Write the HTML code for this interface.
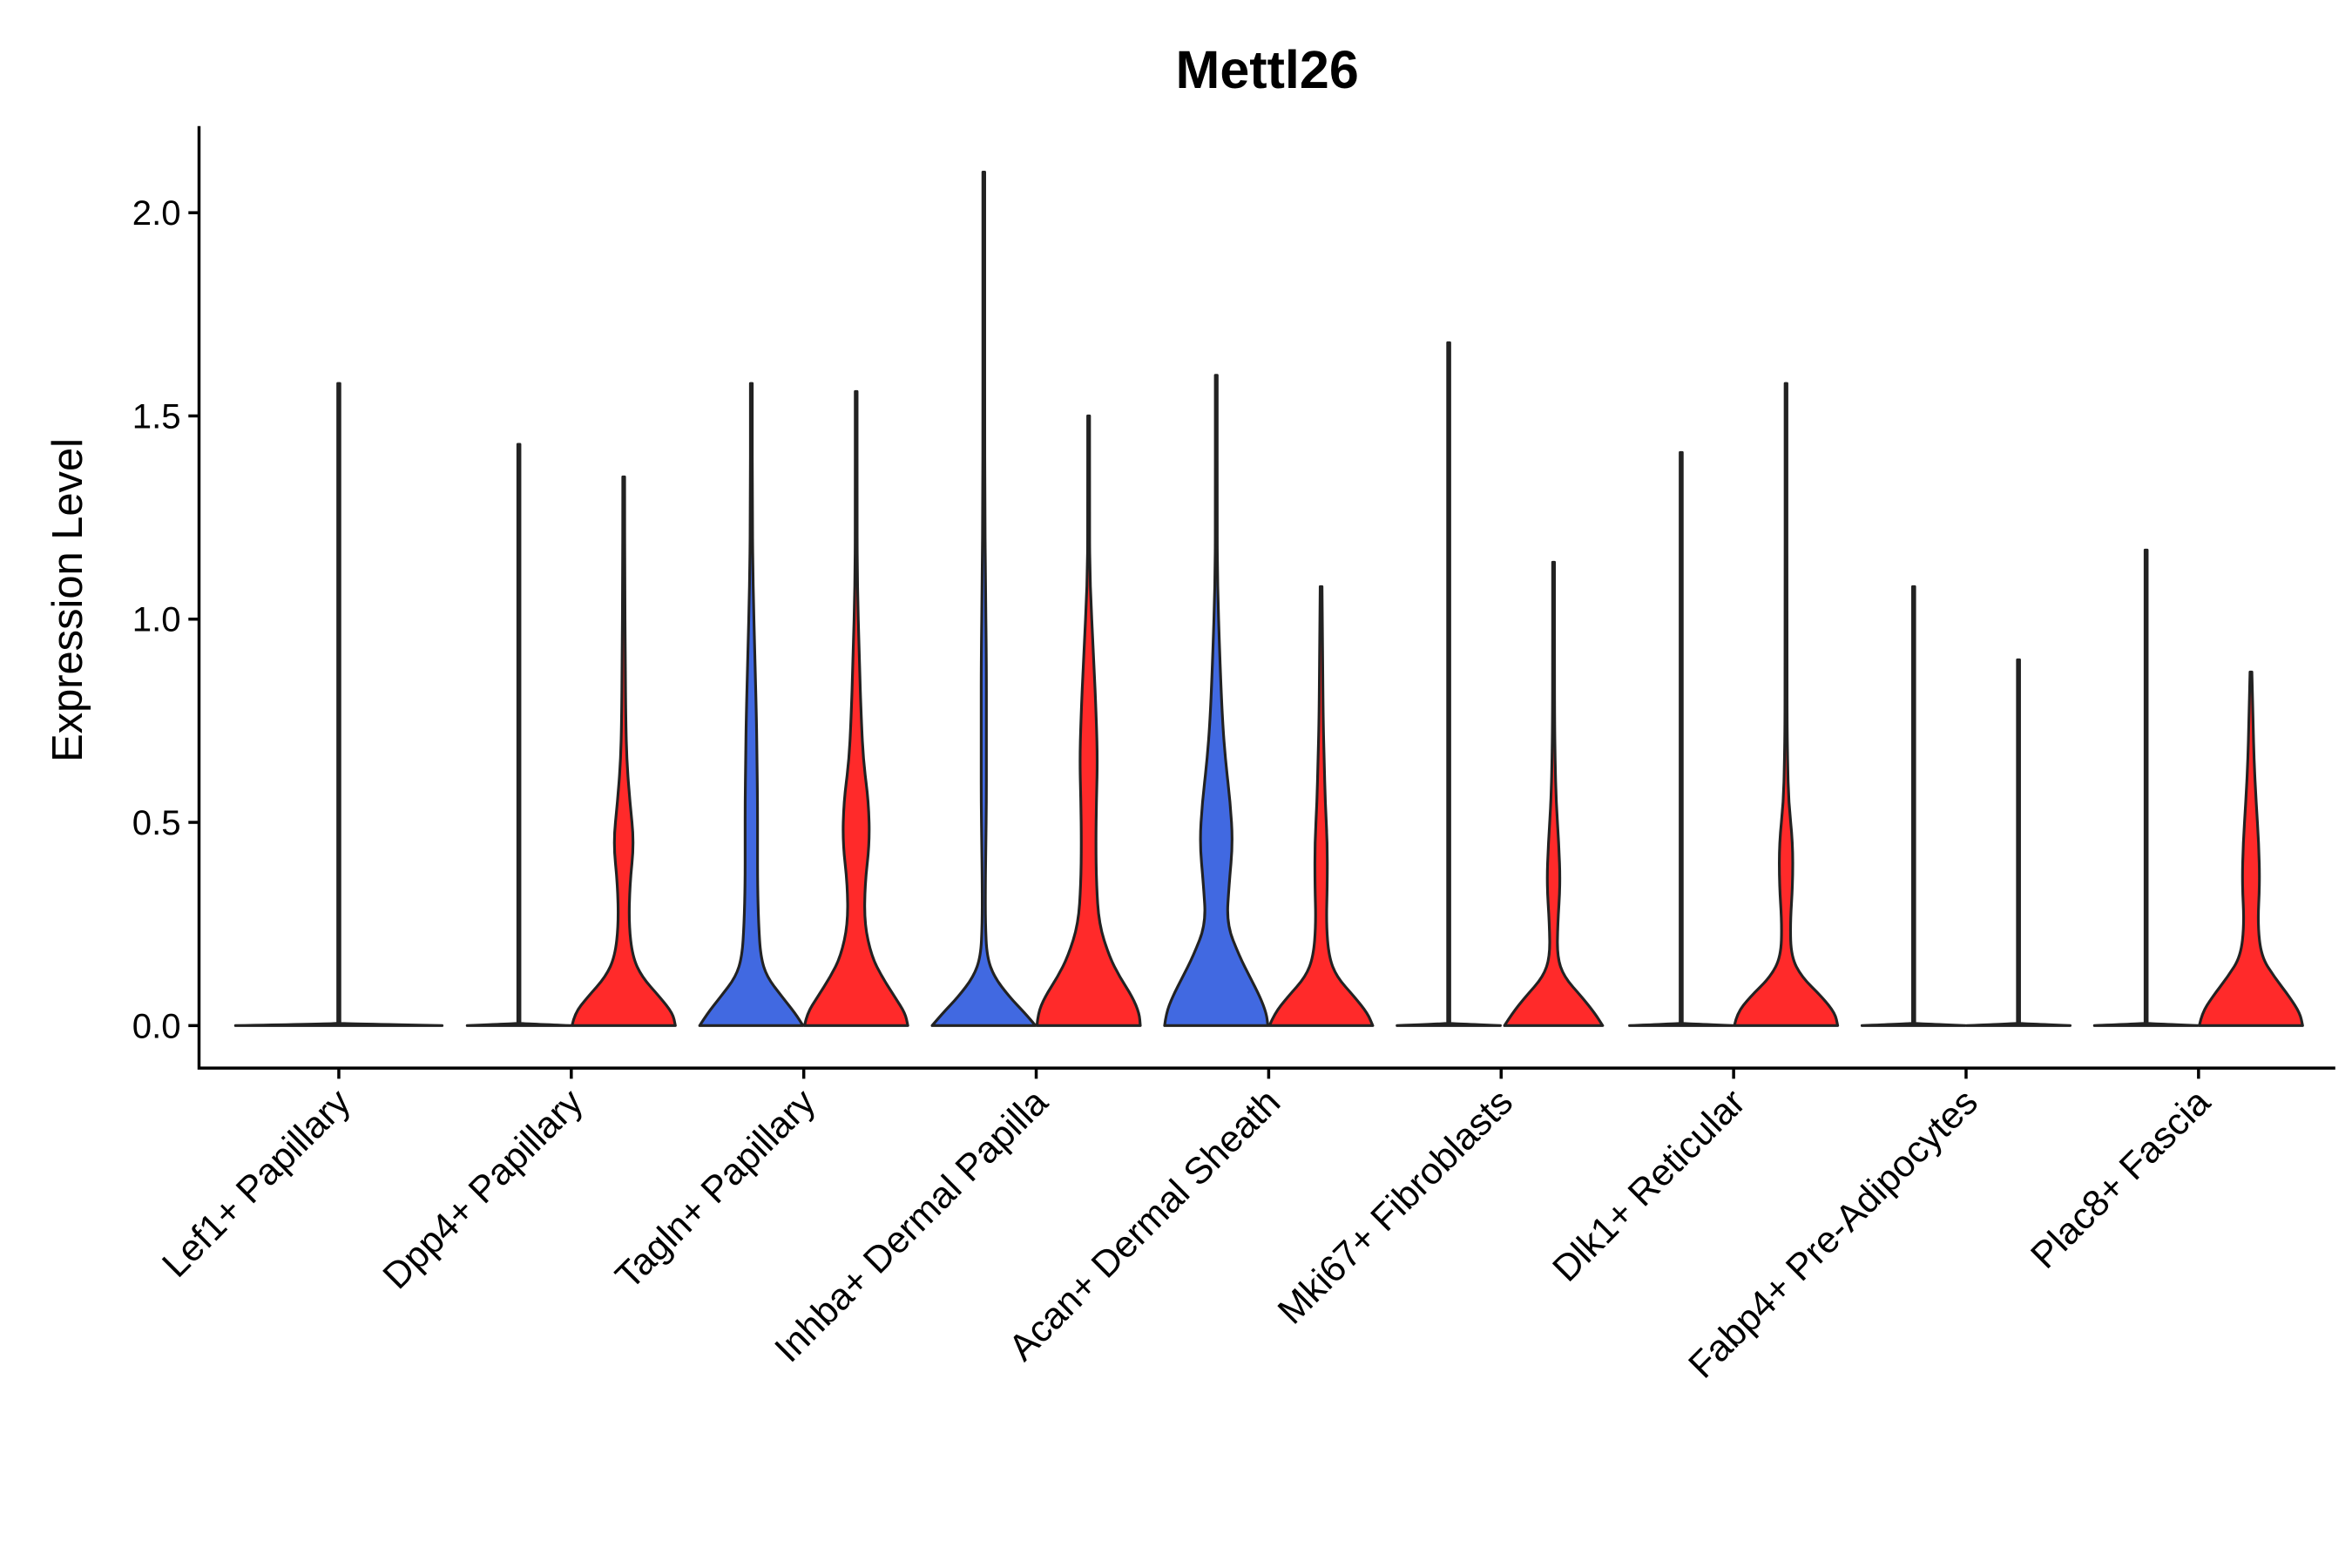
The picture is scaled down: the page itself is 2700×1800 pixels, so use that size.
<!DOCTYPE html>
<html><head><meta charset="utf-8"><style>
html,body{margin:0;padding:0;background:#fff}
svg{display:block}
text{font-family:"Liberation Sans",sans-serif;fill:#000}
</style></head><body>
<svg id="chart" width="2700" height="1800" viewBox="0 0 1548 1032" preserveAspectRatio="none" xmlns="http://www.w3.org/2000/svg">
<text x="834" y="58" font-size="35" font-weight="bold" text-anchor="middle">Mettl26</text>
<text transform="translate(54,395) rotate(-90)" font-size="28" text-anchor="middle">Expression Level</text>
<g id="plot"></g>
</svg>
<script>
const categories = ["Lef1+ Papillary","Dpp4+ Papillary","Tagln+ Papillary","Inhba+ Dermal Papilla","Acan+ Dermal Sheath","Mki67+ Fibroblasts","Dlk1+ Reticular","Fabp4+ Pre-Adipocytes","Plac8+ Fascia"];
const yTicks = [0,0.5,1.0,1.5,2.0];
const yTickLabels = ["0.0","0.5","1.0","1.5","2.0"];
const levels = [0,0.03,0.07,0.12,0.17,0.25,0.35,0.45,0.55,0.65,0.75,0.9,1.1,1.3,1.5,1.7,1.9,2.1];
const flat = null; // zero-inflated group: flat line at 0
const violinCat = [0,1,1,2,2,3,3,4,4,5,5,6,6,7,7,8,8];
const violinGroup = [0,-1,1,-1,1,-1,1,-1,1,-1,1,-1,1,-1,1,-1,1];
const violinMax = [1.58,1.43,1.35,1.58,1.56,2.1,1.5,1.6,1.08,1.68,1.14,1.41,1.58,1.08,0.9,1.17,0.87];
const violinWidths = [
 flat, flat,
 [1,0.95,0.7,0.35,0.17,0.1,0.12,0.2,0.12,0.06,0.04,0.03,0.02,0.01,0.01],
 [1,0.85,0.6,0.3,0.18,0.14,0.12,0.12,0.12,0.11,0.1,0.07,0.03,0.015,0.01],
 [1,0.95,0.75,0.5,0.3,0.16,0.17,0.26,0.24,0.14,0.1,0.06,0.02,0.01,0.01],
 [1,0.8,0.5,0.2,0.06,0.03,0.03,0.04,0.05,0.05,0.05,0.05,0.03,0.02,0.01,0.01,0.01,0.01],
 [1,0.98,0.85,0.6,0.4,0.2,0.15,0.14,0.15,0.17,0.15,0.1,0.02,0.01,0.01],
 [1,0.97,0.85,0.65,0.45,0.2,0.25,0.32,0.27,0.18,0.12,0.07,0.02,0.01,0.01,0.01],
 [1,0.9,0.65,0.3,0.15,0.1,0.12,0.12,0.08,0.06,0.04,0.03,0.01],
 flat,
 [0.95,0.8,0.55,0.2,0.07,0.08,0.13,0.1,0.05,0.03,0.02,0.01,0.005],
 flat,
 [1,0.95,0.7,0.3,0.1,0.08,0.13,0.13,0.05,0.03,0.02,0.02,0.01,0.01,0.01],
 flat, flat, flat,
 [1,0.95,0.75,0.45,0.2,0.13,0.17,0.15,0.1,0.06,0.04]
];
const colors = {"-1":"#4169E1","1":"#FF2A2A","0":"#f4f4f4"};
const ns="http://www.w3.org/2000/svg";
const g=document.getElementById('plot');
const X0=131,X1=1537,Y0=83,Yb=703;
const y=v=>675-v*267.5;
const xc=i=>223+i*153;
function el(t,a){const e=document.createElementNS(ns,t);for(const k in a)e.setAttribute(k,a[k]);g.appendChild(e);return e;}
function smooth(P){
  let d=" L"+P[0][0]+","+P[0][1];
  for(let k=1;k<P.length-1;k++){
    const mx=(P[k][0]+P[k+1][0])/2, my=(P[k][1]+P[k+1][1])/2;
    d+=" Q"+P[k][0]+","+P[k][1]+" "+mx+","+my;
  }
  d+=" L"+P[P.length-1][0]+","+P[P.length-1][1];
  return d;
}
for(let i=0;i<violinCat.length;i++){
  const grp=violinGroup[i];
  const cx=xc(violinCat[i])+grp*34.5;
  const hw=grp===0?68:34;
  const mx=violinMax[i], w=violinWidths[i];
  let d;
  if(!w){
    const y0=y(0);
    d=`M${cx-hw},${y0} Q${cx-2},${y0-1.2} ${cx-0.7},${y0-1.5} L${cx-0.7},${y(mx)} L${cx+0.7},${y(mx)} L${cx+0.7},${y0-1.5} Q${cx+2},${y0-1.2} ${cx+hw},${y0} Z`;
  } else {
    const pts=[];
    for(let k=0;k<levels.length;k++){
      if(levels[k]>=mx)break;
      pts.push([levels[k],(w[k]===undefined?0.005:w[k])*hw]);
    }
    pts.push([mx,0.6]);
    const L=pts.map(p=>[cx-Math.max(p[1],0.6),y(p[0])]);
    const R=pts.slice().reverse().map(p=>[cx+Math.max(p[1],0.6),y(p[0])]);
    d="M"+L[0][0]+","+L[0][1]+smooth(L)+smooth(R)+" Z";
  }
  const v=el('path',{d:d,fill:colors[grp],stroke:"#222","stroke-width":1.8,"stroke-linejoin":"round"});
  
  
}
const ax=el('path',{d:`M${X0},${Y0} L${X0},${Yb} L${X1},${Yb}`,fill:"none",stroke:"#000","stroke-width":2});


yTicks.forEach((t,i)=>{
  const tk=el('line',{x1:X0-7,x2:X0,y1:y(t),y2:y(t),stroke:"#000","stroke-width":2});
  
  
  const tx=el('text',{x:X0-12,y:y(t)+8,"font-size":23,"text-anchor":"end"});
  tx.textContent=yTickLabels[i];
  
  
});
categories.forEach((c,i)=>{
  const x=xc(i);
  const tk=el('line',{x1:x,x2:x,y1:Yb,y2:Yb+7,stroke:"#000","stroke-width":2});
  
  
  const tx=el('text',{transform:`translate(${x+9},${Yb+24}) rotate(-45)`,"font-size":24.5,"text-anchor":"end"});
  tx.textContent=c;
  
  
});
</script>
</body></html>
